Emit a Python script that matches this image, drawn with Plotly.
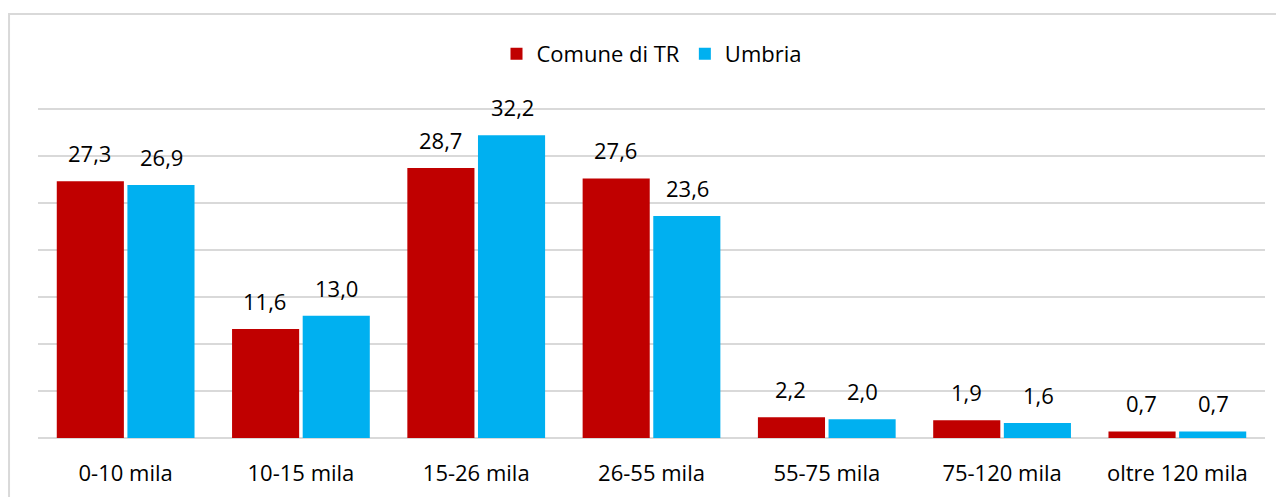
import plotly.graph_objects as go

categories = ['0-10 mila', '10-15 mila', '15-26 mila', '26-55 mila',
              '55-75 mila', '75-120 mila', 'oltre 120 mila']
comune_tr = [27.3, 11.6, 28.7, 27.6, 2.2, 1.9, 0.7]
umbria = [26.9, 13.0, 32.2, 23.6, 2.0, 1.6, 0.7]

_RED = '#C00000'
_BLUE = '#00B0F0'
_GRID = '#D9D9D9'
_FONT = 'Open Sans, sans-serif'
_SIZE = 22


def _fmt(v):
    return f'{v:.1f}'.replace('.', ',')


fig = go.Figure()
fig.add_trace(go.Bar(x=categories, y=comune_tr, name='Comune di TR',
                     marker=dict(color=_RED, line=dict(width=0))))
fig.add_trace(go.Bar(x=categories, y=umbria, name='Umbria',
                     marker=dict(color=_BLUE, line=dict(width=0))))

# value labels sit a little above each bar, like the Excel original
annotations = []
for series, shift in ((comune_tr, -36), (umbria, 36)):
    for cat, v in zip(categories, series):
        annotations.append(dict(
            x=cat, y=v, xref='x', yref='y', text=_fmt(v), showarrow=False,
            xshift=shift, yshift=11, yanchor='bottom',
            font=dict(size=_SIZE, color='#000000', family=_FONT),
        ))

# page body has an 8px margin, so the figure is sized to fit inside it
fig.update_layout(
    width=1276, height=489,
    barmode='group', bargap=0.194, bargroupgap=0.05,
    plot_bgcolor='white', paper_bgcolor='white',
    margin=dict(l=30, r=19, t=99, b=59),
    font=dict(family=_FONT, size=_SIZE, color='#000000'),
    xaxis=dict(showgrid=False, showline=False, ticks='', ticklabelstandoff=20,
               automargin=False, tickfont=dict(size=_SIZE)),
    yaxis=dict(range=[0, 35.2], dtick=5, showticklabels=False, gridcolor=_GRID,
               gridwidth=1.5, zeroline=True, zerolinecolor=_GRID, zerolinewidth=1.5),
    legend=dict(orientation='h', x=0.5, xanchor='center', y=1.16, yanchor='middle',
                font=dict(size=_SIZE), itemwidth=30, traceorder='normal'),
    annotations=annotations,
    shapes=[dict(type='rect', xref='paper', yref='paper',
                 x0=-0.0236, x1=1.05, y0=-0.5, y1=1.281,
                 line=dict(color=_GRID, width=2), layer='below')],
)

fig.write_html('out.html')
